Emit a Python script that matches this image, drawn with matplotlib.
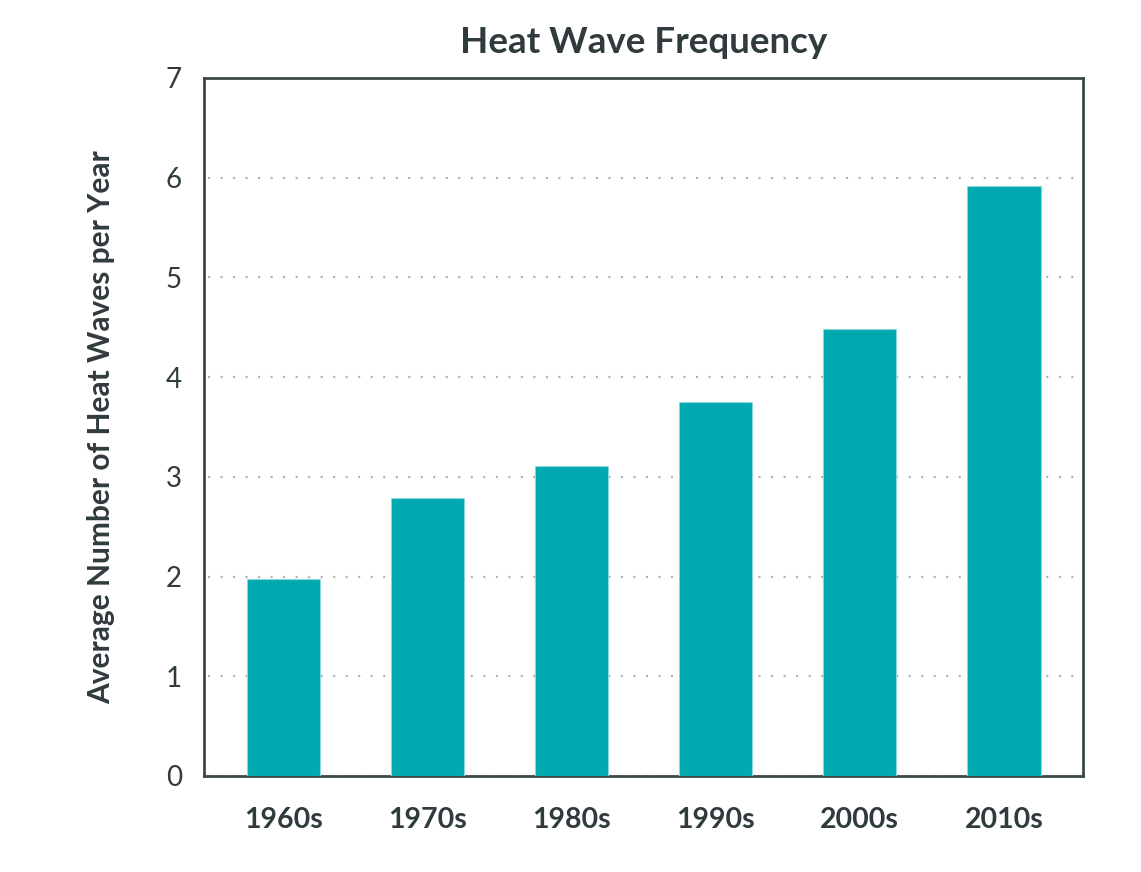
import matplotlib.pyplot as plt
import numpy as np

decades = ['1960s', '1970s', '1980s', '1990s', '2000s', '2010s']
heat_waves = [1.98, 2.79, 3.11, 3.75, 4.48, 5.92]  # avg heat waves per year
y_ticks = [0, 1, 2, 3, 4, 5, 6, 7]

bar_color = '#00a9b0'
text_color = '#2f3b3d'
spine_color = '#3c4a4c'

plt.rcParams['font.family'] = ['Lato', 'DejaVu Sans']

fig = plt.figure(figsize=(11.41, 8.72), dpi=100)
ax = fig.add_axes([0.1788, 0.1101, 0.9492 - 0.1788, 0.9106 - 0.1101])

x = np.arange(len(decades))
ax.bar(x, heat_waves, width=0.51, color=bar_color, edgecolor='#8fd6da',
       linewidth=0.8, zorder=3)

ax.set_xlim(-0.55, 5.55)
ax.set_ylim(0, 7)
ax.set_yticks(y_ticks)
ax.set_xticks(x)
ax.set_xticklabels(decades, fontsize=20.5, fontweight='bold', color=text_color)
ax.set_yticklabels([str(t) for t in y_ticks], fontsize=20, color=text_color)
ax.tick_params(length=0)
ax.tick_params(axis='y', pad=16)
ax.tick_params(axis='x', pad=22)

# dotted gridlines, ~12.5 px apart
ax.grid(axis='y', linestyle=(3.8, (0.9, 4.73)), color='#b0b0b0', linewidth=1.6, zorder=0)
for s in ax.spines.values():
    s.set_color(spine_color)
    s.set_linewidth(2)

ax.set_ylabel('Average Number of Heat Waves per Year', fontsize=21.5,
              fontweight='bold', color=text_color, labelpad=36)
ax.set_title('Heat Wave Frequency', fontsize=26.5, fontweight='bold',
             color=text_color, pad=18)

fig.savefig('out.png', dpi=100)
